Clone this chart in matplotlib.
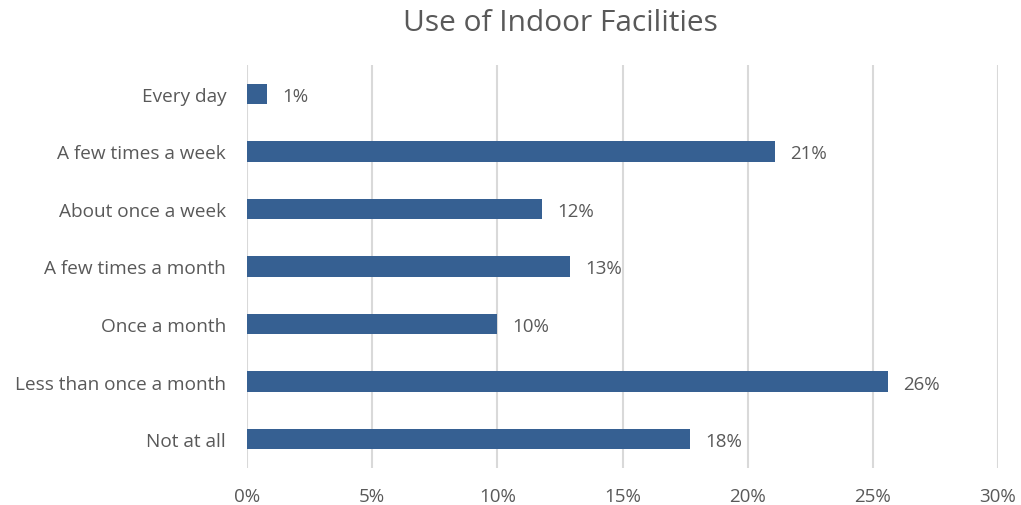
import numpy as np
import matplotlib.pyplot as plt

plt.rcParams['font.family'] = ['Open Sans', 'DejaVu Sans']

categories = ['Every day', 'A few times a week', 'About once a week', 'A few times a month',
              'Once a month', 'Less than once a month', 'Not at all']
values = [0.8, 21.1, 11.8, 12.9, 10.0, 25.6, 17.7]
labels = ['1%', '21%', '12%', '13%', '10%', '26%', '18%']
ticks = [0, 5, 10, 15, 20, 25, 30]

bar_color = '#366092'
text_color = '#595959'

fig = plt.figure(figsize=(10.21, 5.06), dpi=100)
ax = fig.add_axes([0.2419, 0.0736, 0.7356, 0.7955])

y = np.arange(len(categories))
ax.barh(y, values, height=0.35, color=bar_color, zorder=3)
for yi, v, lab in zip(y, values, labels):
	ax.text(v + 0.6, yi, lab, va='center_baseline', ha='left', fontsize=13.5, color=text_color)

ax.set_xlim(0, 30)
ax.set_ylim(len(categories) - 0.5, -0.5)
ax.set_yticks(y)
ax.set_yticklabels(categories, fontsize=13.7, color=text_color)
ax.set_xticks(ticks)
ax.set_xticklabels(['{}%'.format(t) for t in ticks], fontsize=13.5, color=text_color)
ax.tick_params(length=0)
ax.tick_params(axis='x', pad=14)
ax.tick_params(axis='y', pad=15)
ax.grid(axis='x', color='#d9d9d9', linewidth=1.5, zorder=0)
for s in ax.spines.values():
	s.set_visible(False)

fig.text(560 / 1021, 1 - 24 / 506, 'Use of Indoor Facilities', ha='center', va='center',
	fontsize=21.5, color=text_color)

fig.savefig('out.png', dpi=100)
